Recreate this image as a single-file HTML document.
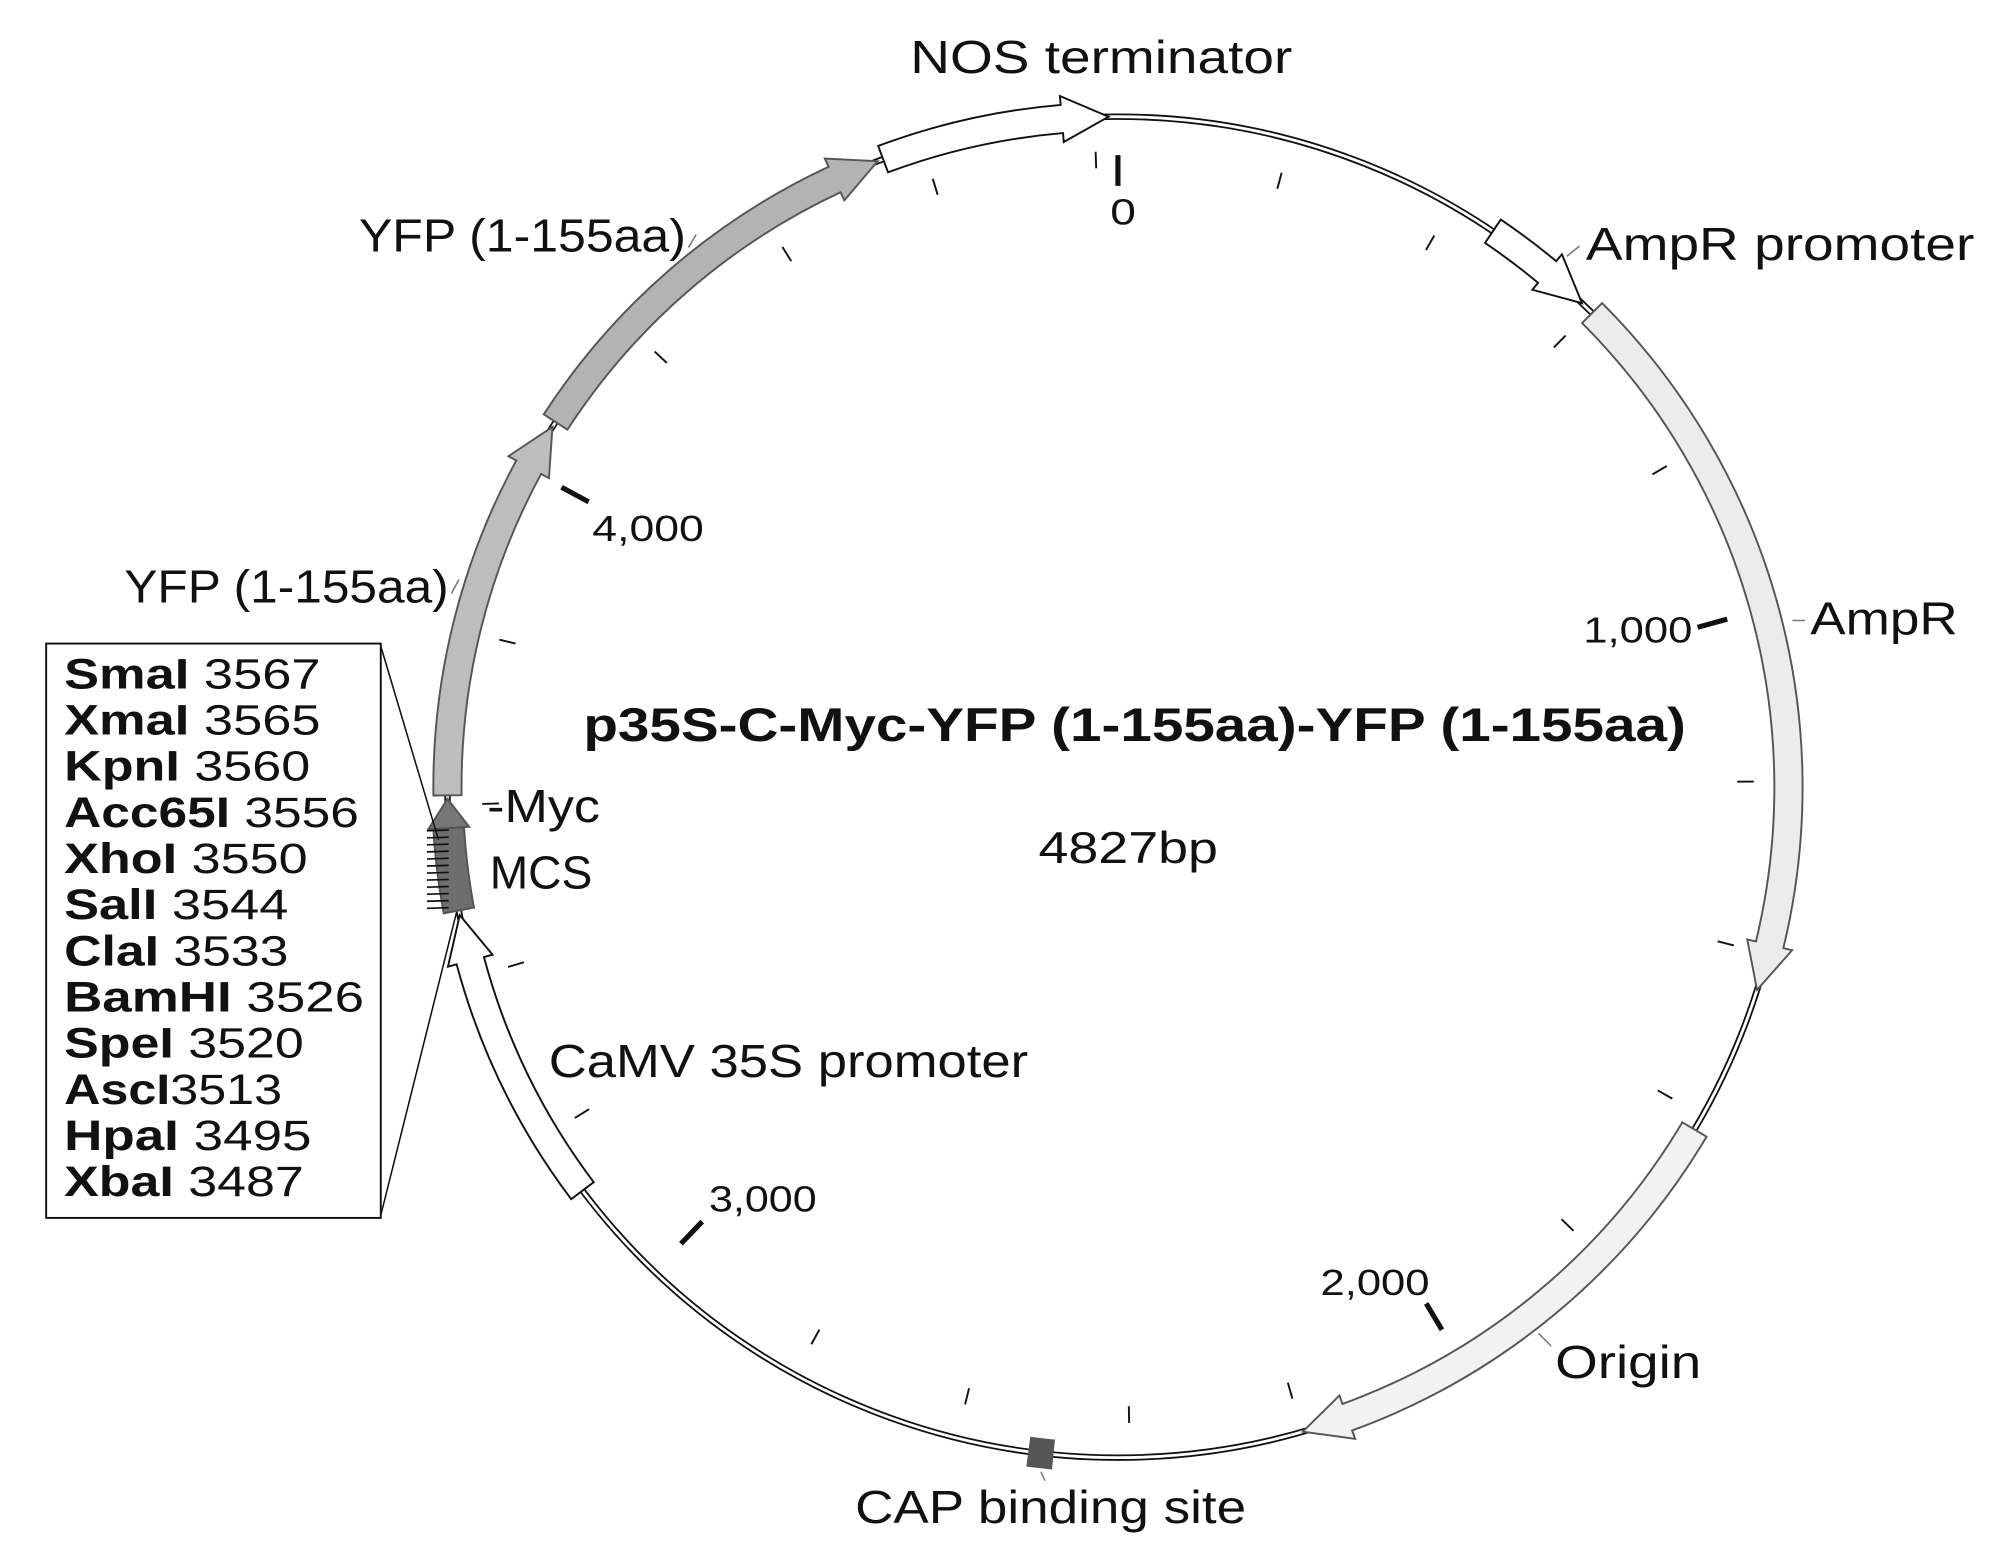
<!DOCTYPE html>
<html><head><meta charset="utf-8">
<style>
html,body{margin:0;padding:0;background:#fff;}
svg{display:block;}
text{font-family:"Liberation Sans",sans-serif;fill:#111;}
</style></head>
<body>
<svg id="s" width="2000" height="1557" viewBox="0 0 1560 1214.5" preserveAspectRatio="none" xmlns="http://www.w3.org/2000/svg">
<rect width="1560" height="1215" fill="#fff"/>
<g id="back"></g>
<g id="ticks"></g>
<g id="feat"></g>
<!-- labels -->
<text x="710" y="57" font-size="36" textLength="298" lengthAdjust="spacingAndGlyphs">NOS terminator</text>
<text x="866" y="175" font-size="28" textLength="20" lengthAdjust="spacingAndGlyphs">0</text>
<text x="1237" y="203" font-size="36" textLength="303" lengthAdjust="spacingAndGlyphs">AmpR promoter</text>
<text x="1412" y="495" font-size="36" textLength="115" lengthAdjust="spacingAndGlyphs">AmpR</text>
<text x="1235" y="501" font-size="28" textLength="85" lengthAdjust="spacingAndGlyphs">1,000</text>
<text x="1213" y="1075" font-size="36" textLength="114" lengthAdjust="spacingAndGlyphs">Origin</text>
<text x="1030" y="1010" font-size="28" textLength="85" lengthAdjust="spacingAndGlyphs">2,000</text>
<text x="667" y="1188" font-size="36" textLength="305" lengthAdjust="spacingAndGlyphs">CAP binding site</text>
<text x="553" y="945" font-size="28" textLength="84" lengthAdjust="spacingAndGlyphs">3,000</text>
<text x="428" y="840" font-size="36" textLength="374" lengthAdjust="spacingAndGlyphs">CaMV 35S promoter</text>
<text x="462" y="422" font-size="28" textLength="87" lengthAdjust="spacingAndGlyphs">4,000</text>
<text x="280" y="196" font-size="36" textLength="255" lengthAdjust="spacingAndGlyphs">YFP (1-155aa)</text>
<text x="97" y="470" font-size="36" textLength="253" lengthAdjust="spacingAndGlyphs">YFP (1-155aa)</text>
<text x="380" y="641" font-size="36" textLength="88" lengthAdjust="spacingAndGlyphs">-Myc</text>
<text x="382" y="693" font-size="36" textLength="80" lengthAdjust="spacingAndGlyphs">MCS</text>
<text x="455" y="578" font-size="37" font-weight="bold" textLength="860" lengthAdjust="spacingAndGlyphs">p35S-C-Myc-YFP (1-155aa)-YFP (1-155aa)</text>
<text x="810" y="673" font-size="35" textLength="140" lengthAdjust="spacingAndGlyphs">4827bp</text>
<!-- leaders -->
<g stroke="#777" stroke-width="1.2">
<line x1="537" y1="193" x2="543" y2="183"/>
<line x1="352" y1="463" x2="358" y2="452"/>
<line x1="1398" y1="484" x2="1408" y2="484"/>
<line x1="1200" y1="1040" x2="1210" y2="1050"/>
<line x1="1222" y1="200" x2="1232" y2="192"/>
<line x1="812" y1="1148" x2="815" y2="1155"/>
</g>
<!-- box -->
<rect x="36" y="502" width="261" height="448" fill="#fff" stroke="#111" stroke-width="1.5"/>
<g stroke="#111" stroke-width="1.2">
<line x1="297" y1="504" x2="342" y2="655"/>
<line x1="297" y1="948" x2="356" y2="712"/>
</g>
<g font-size="33">
<text x="50" y="537" textLength="200" lengthAdjust="spacingAndGlyphs"><tspan font-weight="bold">SmaI</tspan> 3567</text>
<text x="50" y="573" textLength="200" lengthAdjust="spacingAndGlyphs"><tspan font-weight="bold">XmaI</tspan> 3565</text>
<text x="50" y="609" textLength="192" lengthAdjust="spacingAndGlyphs"><tspan font-weight="bold">KpnI</tspan> 3560</text>
<text x="50" y="645" textLength="230" lengthAdjust="spacingAndGlyphs"><tspan font-weight="bold">Acc65I</tspan> 3556</text>
<text x="50" y="681" textLength="190" lengthAdjust="spacingAndGlyphs"><tspan font-weight="bold">XhoI</tspan> 3550</text>
<text x="50" y="717" textLength="175" lengthAdjust="spacingAndGlyphs"><tspan font-weight="bold">SalI</tspan> 3544</text>
<text x="50" y="753" textLength="175" lengthAdjust="spacingAndGlyphs"><tspan font-weight="bold">ClaI</tspan> 3533</text>
<text x="50" y="789" textLength="234" lengthAdjust="spacingAndGlyphs"><tspan font-weight="bold">BamHI</tspan> 3526</text>
<text x="50" y="825" textLength="187" lengthAdjust="spacingAndGlyphs"><tspan font-weight="bold">SpeI</tspan> 3520</text>
<text x="50" y="861" textLength="170" lengthAdjust="spacingAndGlyphs"><tspan font-weight="bold">AscI</tspan>3513</text>
<text x="50" y="897" textLength="193" lengthAdjust="spacingAndGlyphs"><tspan font-weight="bold">HpaI</tspan> 3495</text>
<text x="50" y="933" textLength="187" lengthAdjust="spacingAndGlyphs"><tspan font-weight="bold">XbaI</tspan> 3487</text>
</g>
<g stroke="#111" stroke-width="1.3" id="hatch"></g>
</svg>
<script>
(function(){
var NS="http://www.w3.org/2000/svg",cx=872,cy=614,R=523;
function pt(a,r){var t=a*Math.PI/180;return [cx+r*Math.sin(t),cy-r*Math.cos(t)];}
function P(p){return p[0].toFixed(2)+","+p[1].toFixed(2);}
function el(g,tag,at){var e=document.createElementNS(NS,tag);for(var k in at)e.setAttribute(k,at[k]);document.getElementById(g).appendChild(e);return e;}
el("back","circle",{cx:cx,cy:cy,r:R,fill:"none",stroke:"#111","stroke-width":5});
el("back","circle",{cx:cx,cy:cy,r:R,fill:"none",stroke:"#fff","stroke-width":2.2});
for(var k=0;k<25;k++){var bp=k*200;var a=bp/4827*360;var maj=(bp%1000==0);
 var p1=pt(a,maj?R-54:R-40),p2=pt(a,maj?R-30:R-27);
 el("ticks","line",{x1:p1[0],y1:p1[1],x2:p2[0],y2:p2[1],stroke:"#111","stroke-width":maj?4:1.5});}
function arrow(a1,a2,fill,head,w,hw){w=w||11;hw=hw||18;head=(head==null)?4:head;
 var d=a2>a1?1:-1,hb=a2-d*head,s=d>0?1:0,s2=d>0?0:1;
 var large=Math.abs(hb-a1)>180?1:0;
 var path="M"+P(pt(a1,R+w))+" A"+(R+w)+","+(R+w)+" 0 "+large+" "+s+" "+P(pt(hb,R+w));
 if(head>0){path+=" L"+P(pt(hb,R+hw))+" L"+P(pt(a2,R))+" L"+P(pt(hb,R-hw))+" L"+P(pt(hb,R-w));}
 else{path+=" L"+P(pt(hb,R-w));}
 path+=" A"+(R-w)+","+(R-w)+" 0 "+large+" "+s2+" "+P(pt(a1,R-w))+" Z";
 el("feat","path",{d:path,fill:fill,stroke:fill=="#fff"?"#111":"#555","stroke-width":1.5,"stroke-linejoin":"miter"});}
arrow(-20.5,-0.8,"#fff");
arrow(-57,-21,"#b3b3b3");
arrow(-90.7,-57.5,"#bdbdbd");
arrow(-127,-101,"#fff");
arrow(34,43.8,"#fff");
arrow(45,107.6,"#ececec");
arrow(120.7,164,"#f2f2f2");
arrow(-100.6,-93.5,"#6e6e6e",0,12);
arrow(-93.5,-91,"#777",2.5,9,16);
arrow(185.6,187.6,"#555",0,11);
for(var i=0;i<12;i++){var y=648+i*5.5;el("hatch","line",{x1:333,y1:y,x2:350,y2:y-0.5});}
})();
</script>
</body></html>
